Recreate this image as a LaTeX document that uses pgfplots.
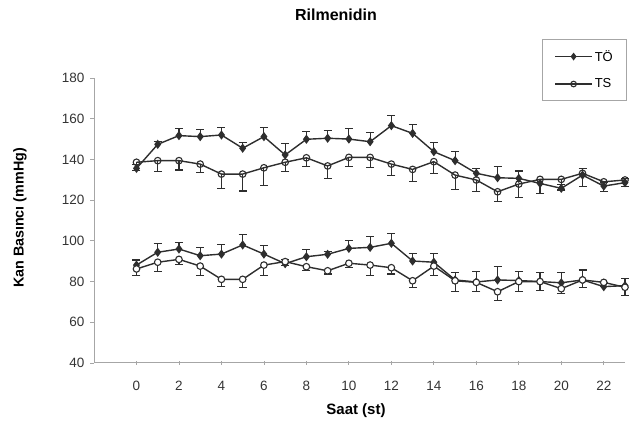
\documentclass[border=0pt]{standalone}
\usepackage{fontspec}
\setmainfont{Liberation Sans}
\usepackage{pgfplots}
\usepackage{pgfplotstable}
\pgfplotsset{compat=1.18}

\definecolor{serie}{HTML}{2E2E2E}
\definecolor{axisgray}{HTML}{A6A6A6}

% upper group (x = hour, y = mean, e = error)
\pgfplotstableread{
x y e
0 135.6 2.0
1 147.4 1.5
2 151.7 3.3
3 151.2 3.3
4 152.0 3.6
5 145.5 2.8
6 151.2 4.4
7 142.2 5.7
8 149.9 3.8
9 150.4 3.8
10 150.0 5.2
11 148.7 4.4
12 156.6 4.9
13 152.8 4.4
14 143.8 4.6
15 139.4 4.4
16 133.2 2.5
17 131.0 5.4
18 130.7 3.6
19 128.2 2.0
20 125.8 2.0
21 132.3 3.3
22 126.9 2.0
23 128.6 2.0
}\toUp

\pgfplotstableread{
x y e
0 138.6 4.0
1 139.4 5.4
2 139.4 4.6
3 137.7 4.3
4 132.8 7.0
5 132.8 8.3
6 135.9 8.5
7 138.6 4.6
8 140.8 4.1
9 136.8 6.0
10 141.0 4.3
11 141.0 4.9
12 137.7 5.4
13 135.1 6.0
14 138.9 5.7
15 132.3 7.0
16 129.9 5.7
17 124.1 4.9
18 127.9 6.5
19 130.2 6.9
20 130.2 5.2
21 133.2 6.5
22 129.0 4.9
23 129.9 3.3
}\tsUp

% lower group
\pgfplotstableread{
x y e
0 88.1 2.5
1 94.4 4.1
2 96.0 3.3
3 92.7 4.1
4 93.5 4.9
5 98.0 4.9
6 93.5 4.4
7 88.8 2.0
8 92.2 3.6
9 93.4 1.5
10 96.3 3.8
11 96.8 5.2
12 98.8 4.6
13 90.1 3.8
14 89.5 4.4
15 80.8 3.8
16 79.8 5.2
17 80.8 6.5
18 80.5 4.6
19 80.0 4.6
20 79.4 4.9
21 80.8 4.9
22 77.5 2.0
23 78.0 3.3
}\toLow

\pgfplotstableread{
x y e
0 86.2 3.0
1 89.5 4.6
2 90.9 2.3
3 87.6 4.4
4 81.1 3.6
5 81.1 3.9
6 88.1 4.9
7 89.8 2.0
8 87.3 2.0
9 85.3 1.6
10 89.0 2.0
11 88.1 4.9
12 86.8 3.1
13 80.4 3.3
14 87.6 4.4
15 80.4 5.4
16 79.6 4.6
17 75.0 4.1
18 80.0 4.9
19 80.0 4.4
20 76.5 2.5
21 80.8 3.6
22 79.6 2.0
23 77.2 4.1
}\tsLow

\begin{document}
\begin{tikzpicture}
\path[use as bounding box] (0,0) rectangle (635pt,436pt);
\begin{axis}[
    at={(94pt,73pt)}, anchor=south west,
    width=531pt, height=285pt, scale only axis,
    xmin=-2, xmax=23,
    ymin=40, ymax=180,
    xtick={0,2,...,22},
    ytick={40,60,...,180},
    axis x line*=bottom, axis y line*=left,
    axis line style={-, axisgray, line width=1pt},
    major tick style={axisgray, line width=0.8pt},
    major tick length=4pt,
    xtick align=center, ytick align=outside,
    tick label style={font=\fontsize{13.5}{15}\selectfont, color=black!80},
    /pgf/number format/assume math mode=true,
    xticklabel style={yshift=-13pt},
    yticklabel style={xshift=-2pt},
    clip=false,
    legend style={at={(0.8437,1.137)}, anchor=north west,
        draw=axisgray, line width=0.8pt,
        font=\fontsize{13}{14}\selectfont,
        inner xsep=12pt, inner ysep=9pt,
        row sep=12pt, legend cell align=left},
    legend image code/.code={
        \draw[#1, line width=1.4pt, mark repeat=2, mark phase=2, mark size=2.8pt]
        plot coordinates {(0cm,0cm) (0.65cm,0cm) (1.3cm,0cm)};},
    every axis plot/.append style={serie, line width=1.4pt},
    error bars/error bar style={serie, line width=1.1pt},
    error bars/error mark options={serie, line width=1.1pt, mark size=4pt, rotate=90},
]
\addplot[mark=diamond*, mark size=3.5pt, mark options={fill=serie, solid},
    error bars/.cd, y dir=plus, y explicit]
    table[x=x, y=y, y error=e] {\toUp};
\addlegendentry{TÖ}
\addplot[mark=o, mark size=3.3pt, mark options={fill=white, solid, line width=1.1pt},
    error bars/.cd, y dir=minus, y explicit]
    table[x=x, y=y, y error=e] {\tsUp};
\addlegendentry{TS}
\addplot[forget plot, mark=diamond*, mark size=3.5pt, mark options={fill=serie, solid},
    error bars/.cd, y dir=plus, y explicit]
    table[x=x, y=y, y error=e] {\toLow};
\addplot[forget plot, mark=*, mark size=3.3pt, mark options={fill=white, solid, line width=1.1pt},
    error bars/.cd, y dir=minus, y explicit]
    table[x=x, y=y, y error=e] {\tsLow};
\end{axis}
\node[font=\fontsize{16}{18}\selectfont\bfseries] at (336pt,421pt) {Rilmenidin};
\node[font=\fontsize{15}{17}\selectfont\bfseries] at (356pt,25pt) {Saat (st)};
\node[font=\fontsize{14.3}{16}\selectfont\bfseries, rotate=90] at (20pt,218pt) {Kan Basıncı (mmHg)};
\end{tikzpicture}
\end{document}
